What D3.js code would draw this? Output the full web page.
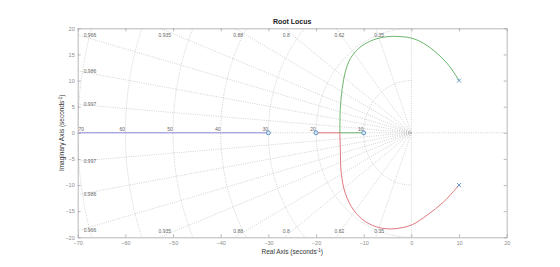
<!DOCTYPE html>
<html>
<head>
<meta charset="utf-8">
<script src="https://cdn.jsdelivr.net/npm/d3@7"></script>
<style>
  body { margin: 0; background: #fff; }
  svg { font-family: "Liberation Sans", Arial, sans-serif; }
</style>
</head>
<body>
<div id="chart"></div>
<script>
// chart data
var xTicks = [-70, -60, -50, -40, -30, -20, -10, 0, 10, 20];
var yTicks = [-20, -15, -10, -5, 0, 5, 10, 15, 20];
var zetaValues = [0.997, 0.986, 0.966, 0.935, 0.88, 0.8, 0.62, 0.35];
var wnValues = [10, 20, 30, 40, 50, 60, 70];
var poles = [[10, 10], [10, -10]];
var zeros = [[-30, 0], [-20, 0], [-10, 0]];
var blueBranch = [[-70, 0], [-30, 0]];
var greenArc = [[10, 10], [7.8, 12.96], [5.4, 15.2], [2.6, 17.1], [0.1, 18.1], [-3, 18.45],
                [-5.8, 18.3], [-8.6, 17.55], [-11.05, 16.15], [-12.8, 14.2], [-13.85, 11.7],
                [-14.5, 8.5], [-14.9, 4.7], [-15, 0]];
var greenReal = [[-15, 0], [-10, 0]];
var redArc = [[10, -10], [6.8, -13.2], [3.3, -15.75], [0.15, -17.6], [-3.4, -18.35],
              [-6.5, -18.2], [-9.65, -17.0], [-12.1, -14.8], [-13.85, -11.6], [-14.7, -7.8],
              [-14.9, -3.3], [-15, 0]];
var redReal = [[-15, 0], [-20, 0]];

function init() {
    var w = 560;
    var h = 267;
    var left = 77.7, right = 506.7, top = 28.3, bottom = 237.3;

    var xScale = d3.scaleLinear().domain([-70, 20]).range([left, right]);
    var yScale = d3.scaleLinear().domain([-20, 20]).range([bottom, top]);

    var svg = d3.select("#chart")
        .append("svg")
        .attr("width", w)
        .attr("height", h);

    svg.append("clipPath")
        .attr("id", "plotClip")
        .append("rect")
        .attr("x", left).attr("y", top)
        .attr("width", right - left).attr("height", bottom - top);

    var line = d3.line()
        .x(function(d) { return xScale(d[0]); })
        .y(function(d) { return yScale(d[1]); });
    var smooth = d3.line()
        .x(function(d) { return xScale(d[0]); })
        .y(function(d) { return yScale(d[1]); })
        .curve(d3.curveCatmullRom);

    var grid = svg.append("g").attr("clip-path", "url(#plotClip)");
    var gridStyle = function(sel) {
        sel.attr("fill", "none")
           .attr("stroke", "#b4b4b4")
           .attr("stroke-width", 0.6)
           .attr("stroke-dasharray", "1,1.3");
    };

    // frequency semicircles
    wnValues.forEach(function(wn) {
        var pts = d3.range(90, 270.1, 2).map(function(a) {
            var r = a * Math.PI / 180;
            return [wn * Math.cos(r), wn * Math.sin(r)];
        });
        grid.append("path").datum(pts).attr("d", line).call(gridStyle);
    });

    // damping lines
    zetaValues.forEach(function(z) {
        var s = Math.sqrt(1 - z * z);
        [1, -1].forEach(function(sign) {
            grid.append("path")
                .datum([[0, 0], [-z * 200, sign * s * 200]])
                .attr("d", line).call(gridStyle);
        });
    });

    // axes lines through origin
    grid.append("path").datum([[-70, 0], [20, 0]]).attr("d", line).call(gridStyle);
    grid.append("path").datum([[0, -20], [0, 20]]).attr("d", line).call(gridStyle);

    // damping labels
    var labels = svg.append("g")
        .attr("font-size", 5)
        .attr("fill", "#666");
    zetaValues.forEach(function(z) {
        var s = Math.sqrt(1 - z * z);
        var xt = -20 * z / s;
        [1, -1].forEach(function(sign) {
            if (xt >= -70) {
                labels.append("text")
                    .attr("x", xScale(xt) - 1.5)
                    .attr("y", sign > 0 ? top + 8.5 : bottom - 4)
                    .text(z);
            } else {
                var yl = 70 * s / z * sign;
                labels.append("text")
                    .attr("x", left + 6)
                    .attr("y", yScale(yl) + 1.8)
                    .text(z);
            }
        });
    });

    // frequency labels (the outermost one nudged inside the box)
    wnValues.forEach(function(wn) {
        labels.append("text")
            .attr("x", wn === 70 ? xScale(-wn) + 3.5 : xScale(-wn) - 3)
            .attr("y", yScale(0) - 1.5)
            .attr("text-anchor", "middle")
            .text(wn);
    });

    // locus branches
    var plot = svg.append("g").attr("clip-path", "url(#plotClip)");
    plot.append("path").datum(blueBranch).attr("d", line)
        .attr("fill", "none").attr("stroke", "#8c8cda").attr("stroke-width", 1);
    plot.append("path").datum(greenArc).attr("d", smooth)
        .attr("fill", "none").attr("stroke", "#5aac5a").attr("stroke-width", 0.9);
    plot.append("path").datum(greenReal).attr("d", line)
        .attr("fill", "none").attr("stroke", "#5aac5a").attr("stroke-width", 0.9);
    plot.append("path").datum(redArc).attr("d", smooth)
        .attr("fill", "none").attr("stroke", "#db6872").attr("stroke-width", 0.9);
    plot.append("path").datum(redReal).attr("d", line)
        .attr("fill", "none").attr("stroke", "#db6872").attr("stroke-width", 0.9);

    // zeros and poles
    plot.selectAll("circle.zero")
        .data(zeros)
        .enter().append("circle")
        .attr("class", "zero")
        .attr("cx", function(d) { return xScale(d[0]); })
        .attr("cy", function(d) { return yScale(d[1]); })
        .attr("r", 2)
        .attr("fill", "#d6e6f2")
        .attr("stroke", "#5a90c4")
        .attr("stroke-width", 0.9);
    var pg = plot.selectAll("g.pole")
        .data(poles)
        .enter().append("g")
        .attr("class", "pole")
        .attr("transform", function(d) {
            return "translate(" + xScale(d[0]) + "," + yScale(d[1]) + ")";
        });
    pg.append("path")
        .attr("d", "M-2,-2L2,2M-2,2L2,-2")
        .attr("stroke", "#5a90c4")
        .attr("stroke-width", 0.9);

    // axes box with mirrored ticks
    var xAxis = d3.axisBottom(xScale).tickValues(xTicks).tickSizeInner(-3).tickSizeOuter(0).tickPadding(4);
    var yAxis = d3.axisLeft(yScale).tickValues(yTicks).tickSizeInner(-3).tickSizeOuter(0).tickPadding(3);
    var xTop = d3.axisTop(xScale).tickValues(xTicks).tickSizeInner(-3).tickSizeOuter(0).tickFormat("");
    var yRight = d3.axisRight(yScale).tickValues(yTicks).tickSizeInner(-3).tickSizeOuter(0).tickFormat("");

    var styleAxis = function(g) {
        g.selectAll("path").attr("stroke", "#a6a6a6").attr("stroke-width", 0.8);
        g.selectAll("line").attr("stroke", "#a6a6a6").attr("stroke-width", 0.8);
        g.selectAll("text").attr("fill", "#8a8a8a").attr("font-size", 5.5)
            .attr("font-family", "Liberation Sans, Arial, sans-serif");
    };

    svg.append("g").attr("transform", "translate(0," + bottom + ")").call(xAxis).call(styleAxis);
    svg.append("g").attr("transform", "translate(" + left + ",0)").call(yAxis).call(styleAxis);
    svg.append("g").attr("transform", "translate(0," + top + ")").call(xTop).call(styleAxis);
    svg.append("g").attr("transform", "translate(" + right + ",0)").call(yRight).call(styleAxis);

    // title and axis labels
    svg.append("text")
        .attr("x", (left + right) / 2)
        .attr("y", 23.5)
        .attr("text-anchor", "middle")
        .attr("font-size", 7)
        .attr("font-weight", "bold")
        .attr("fill", "#222")
        .text("Root Locus");

    var xl = svg.append("text")
        .attr("x", (left + right) / 2)
        .attr("y", 254)
        .attr("text-anchor", "middle")
        .attr("font-size", 6.5)
        .attr("fill", "#333");
    xl.append("tspan").text("Real Axis (seconds");
    xl.append("tspan").attr("font-size", 4.5).attr("dy", -2.5).text("-1");
    xl.append("tspan").attr("dy", 2.5).text(")");

    var yl = svg.append("text")
        .attr("transform", "translate(64," + ((top + bottom) / 2) + ") rotate(-90)")
        .attr("text-anchor", "middle")
        .attr("font-size", 6.5)
        .attr("fill", "#333");
    yl.append("tspan").text("Imaginary Axis (seconds");
    yl.append("tspan").attr("font-size", 4.5).attr("dy", -2.5).text("-1");
    yl.append("tspan").attr("dy", 2.5).text(")");
}

window.onload = init;
</script>
</body>
</html>
